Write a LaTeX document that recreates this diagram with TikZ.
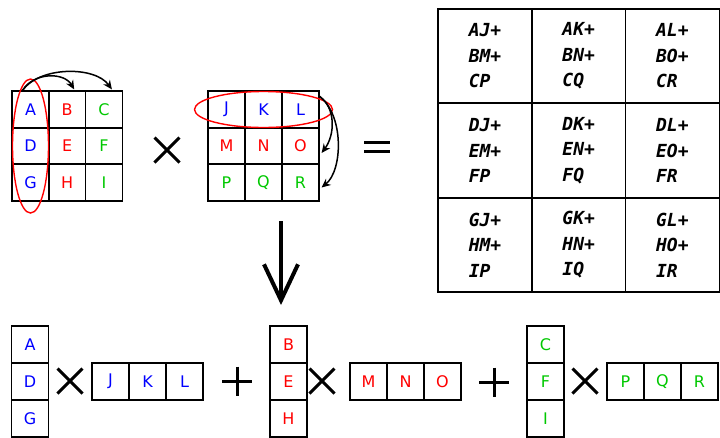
\documentclass[tikz,border=0pt]{standalone}
\usepackage{fontspec}
\setmainfont{DejaVu Sans}
\newfontfamily\resfont{DejaVu Sans Mono Bold Oblique}
\usetikzlibrary{arrows.meta}
\definecolor{cgreen}{RGB}{0,200,0}

\begin{document}
\begin{tikzpicture}[x=1pt, y=-1pt,
    cell/.style={draw, line width=1.5pt, minimum size=36.7pt, inner sep=0pt,
      font=\fontsize{16}{18}\selectfont},
    res/.style={draw, line width=1.5pt, minimum size=94pt, inner sep=0pt, align=left,
      font=\resfont\fontsize{18}{25.5}\selectfont},
    opsign/.style={line width=3pt},
    curvearrow/.style={-{Stealth[length=9pt, width=8pt]}, line width=1.5pt},
    ring/.style={draw=red, line width=1.4pt}]
  \useasboundingbox (0,0) rectangle (720,437);

  % left and right matrices
  \foreach \a/\b/\c [count=\y from 0] in {A/B/C, D/E/F, G/H/I} {
    \node[cell, text=blue]   (l\a) at (30.5, 109.5+36.5*\y) {\a};
    \node[cell, text=red]    (l\b) at (67.2, 109.5+36.5*\y) {\b};
    \node[cell, text=cgreen] (l\c) at (103.9, 109.5+36.5*\y) {\c};
  }
  \foreach \a/\b/\c/\col [count=\y from 0] in {J/K/L/blue, M/N/O/red, P/Q/R/cgreen} {
    \node[cell, text=\col] (r\a) at (226.5, 109.5+36.5*\y) {\a};
    \node[cell, text=\col] (r\b) at (263.5, 109.5+36.5*\y) {\b};
    \node[cell, text=\col] (r\c) at (300.5, 109.5+36.5*\y) {\c};
  }

  \draw[ring] (lD.center) ellipse [x radius=18, y radius=67];
  \draw[ring] (rK.center) ellipse [x radius=69, y radius=18];

  \draw[curvearrow] ([xshift=-8pt]lA.north) .. controls (34,72) and (64,72) .. ([xshift=7pt,yshift=1pt]lB.north);
  \draw[curvearrow] ([xshift=-8pt]lA.north) .. controls (40,66) and (95,66) .. ([xshift=8pt,yshift=1pt]lC.north);
  \draw[curvearrow] ([yshift=-6pt]rL.north east) .. controls (336,108) and (335,135) .. ([xshift=2pt,yshift=-7pt]rO.east);
  \draw[curvearrow] ([yshift=-6pt]rL.north east) .. controls (344,115) and (343,170) .. ([xshift=2pt,yshift=-5pt]rR.east);

  % result
  \foreach \a/\b/\c [count=\y from 0] in {A/B/C, D/E/F, G/H/I}
    \foreach \p/\q/\s [count=\x from 0] in {J/M/P, K/N/Q, L/O/R}
      \node[res] (o\a\p) at (485+93.7*\x, 56+94.5*\y) {\a\p+\\\b\q+\\\c\s};

  % signs
  \foreach \cx/\cy in {167/150, 70/381, 322/381, 585/381}
    \draw[opsign] (\cx-12.5,\cy-12.5) -- (\cx+12.5,\cy+12.5) (\cx-12.5,\cy+12.5) -- (\cx+12.5,\cy-12.5);
  \foreach \cx/\cy in {237/381, 494/382}
    \draw[opsign] (\cx-15,\cy) -- (\cx+15,\cy) (\cx,\cy-14.5) -- (\cx,\cy+14.5);
  \draw[opsign] (364,142) -- (390,142) (364,151) -- (390,151);

  \coordinate (top) at (281,221);
  \coordinate (bot) at (281,305);
  \draw[line width=4pt, -{Straight Barb[length=36pt, width=34pt]}] (top) -- (bot);

  % expansion
  \foreach \a/\b/\c/\p/\q/\s/\col/\cx/\rx in {A/D/G/J/K/L/blue/30/110.5,
      B/E/H/M/N/O/red/288.5/368.5, C/F/I/P/Q/R/cgreen/545.5/625.5} {
    \node[cell, text=\col] (b\a) at (\cx, 344.5) {\a};
    \node[cell, text=\col] (b\b) at (\cx, 381.5) {\b};
    \node[cell, text=\col] (b\c) at (\cx, 418.5) {\c};
    \node[cell, text=\col] (b\p) at (\rx, 381.5) {\p};
    \node[cell, text=\col] (b\q) at (\rx+37, 381.5) {\q};
    \node[cell, text=\col] (b\s) at (\rx+74, 381.5) {\s};
  }
\end{tikzpicture}
\end{document}
